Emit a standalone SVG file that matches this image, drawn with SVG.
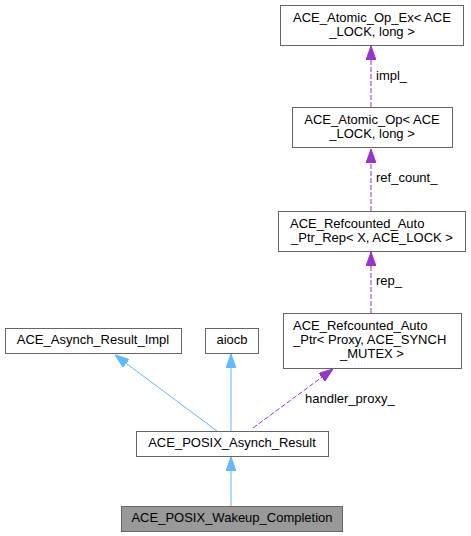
<svg xmlns="http://www.w3.org/2000/svg" width="471" height="536" viewBox="0 0 471 536">
<style>
text{font-family:"Liberation Sans",Arial,Helvetica,sans-serif;font-size:13px;fill:#000}
.c{text-anchor:middle}
.box{fill:#fff;stroke:#666;stroke-width:1}
.cur{fill:#999;stroke:#666;stroke-width:1}
.inh{fill:none;stroke:#63b8ff;stroke-width:1}
.use{fill:none;stroke:#9a32cd;stroke-width:1;stroke-dasharray:5,2}
</style>
<defs>
<marker id="hb" viewBox="0 0 14 10" refX="14" refY="5" markerWidth="14" markerHeight="10" markerUnits="userSpaceOnUse" orient="auto">
<path d="M0,0 L14,5 L0,10 z" fill="#63b8ff" stroke="#63b8ff"/>
</marker>
<marker id="hp" viewBox="0 0 14 10" refX="14" refY="5" markerWidth="14" markerHeight="10" markerUnits="userSpaceOnUse" orient="auto">
<path d="M0,0 L14,5 L0,10 z" fill="#9a32cd" stroke="#9a32cd"/>
</marker>
</defs>
<g id="connectors">
<path class="inh" d="M231,506 L231,457" marker-end="url(#hb)"/>
<path class="inh" d="M217,431 L115,355" marker-end="url(#hb)"/>
<path class="inh" d="M231,431 L231,354" marker-end="url(#hb)"/>
<path class="use" d="M253,428 L333,369" marker-end="url(#hp)"/>
<text x="305" y="403">handler_proxy_</text>
<path class="use" d="M371,313 L371,252" marker-end="url(#hp)"/>
<text x="376" y="285">rep_</text>
<path class="use" d="M371,211 L371,149" marker-end="url(#hp)"/>
<text x="376" y="182">ref_count_</text>
<path class="use" d="M371,107 L371,46" marker-end="url(#hp)"/>
<text x="376" y="80">impl_</text>
</g>
<g id="node_wakeup">
<rect class="cur" x="121.5" y="506.5" width="221" height="25"/>
<text class="c" x="232" y="522">ACE_POSIX_Wakeup_Completion</text>
</g>
<g id="node_posix_asynch_result">
<rect class="box" x="136.5" y="431.5" width="192" height="25"/>
<text class="c" x="232" y="447">ACE_POSIX_Asynch_Result</text>
</g>
<g id="node_asynch_result_impl">
<rect class="box" x="5.5" y="328.5" width="176" height="25"/>
<text class="c" x="93" y="344">ACE_Asynch_Result_Impl</text>
</g>
<g id="node_aiocb">
<rect class="box" x="205.5" y="328.5" width="53" height="25"/>
<text class="c" x="232" y="344">aiocb</text>
</g>
<g id="node_refcounted_auto_ptr">
<rect class="box" x="283.5" y="313.5" width="178" height="55"/>
<text x="293" y="330">ACE_Refcounted_Auto</text>
<text x="293" y="344">_Ptr&lt; Proxy, ACE_SYNCH</text>
<text class="c" x="372" y="358">_MUTEX &gt;</text>
</g>
<g id="node_refcounted_auto_ptr_rep">
<rect class="box" x="278.5" y="211.5" width="187" height="40"/>
<text x="290" y="228">ACE_Refcounted_Auto</text>
<text class="c" x="372" y="242">_Ptr_Rep&lt; X, ACE_LOCK &gt;</text>
</g>
<g id="node_atomic_op">
<rect class="box" x="292.5" y="107.5" width="160" height="40"/>
<text class="c" x="372" y="124">ACE_Atomic_Op&lt; ACE</text>
<text class="c" x="372" y="138">_LOCK, long &gt;</text>
</g>
<g id="node_atomic_op_ex">
<rect class="box" x="280.5" y="5.5" width="183" height="40"/>
<text class="c" x="372" y="22">ACE_Atomic_Op_Ex&lt; ACE</text>
<text class="c" x="372" y="36">_LOCK, long &gt;</text>
</g>
</svg>
